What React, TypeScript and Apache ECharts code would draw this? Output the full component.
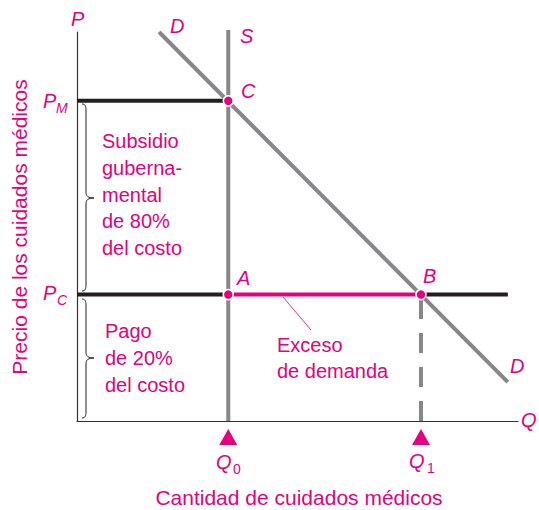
import React, { useEffect, useRef } from "react";
import * as echarts from "echarts";

// Quantities and prices (data units, axes 0..100)
const Q0 = 34.3;
const Q1 = 78;
const PM = 82.3;
const PC = 32.5;
const supplyLine = [[Q0, 0], [Q0, 100.5]];
const demandLine = [[18.6, 100], [97.7, 10]];
const pmLine = [[0, PM], [Q0, PM]];
const pcLeftLine = [[0, PC], [Q0, PC]];
const excessLine = [[Q0, PC], [Q1, PC]];
const pcRightLine = [[Q1, PC], [97.7, PC]];
const q1Dashed = [[Q1, 0], [Q1, PC]];
const keyPoints = [[Q0, PM], [Q0, PC], [Q1, PC]];
const arrowMarks = [[Q0, -4.1], [Q1, -4.1]];

const PINK = "#e5007e";
const GRAY = "#87878a";
const BLACK = "#231f20";
const FONT = "'Liberation Sans', Arial, Helvetica, sans-serif";

echarts.graphic.registerShape(
  "braceTop",
  echarts.graphic.extendPath(
    "M82,104 C85,104 86,106 86,110 L86,192 C86,196 88,198 94,198 C88,198 86,200 86,204 L86,285 C86,289 85,291 82,291",
    {}
  )
);
echarts.graphic.registerShape(
  "braceBottom",
  echarts.graphic.extendPath(
    "M82,299 C85,299 86,301 86,305 L86,352 C86,356 88,358 94,358 C88,358 86,360 86,364 L86,412 C86,416 85,418 82,418",
    {}
  )
);

function txt(
  text: string,
  x: number,
  y: number,
  opts: { size?: number; italic?: boolean; align?: string; color?: string; rotation?: number } = {}
) {
  const size = opts.size ?? 20;
  const align = opts.align ?? "left";
  return {
    type: "text",
    x,
    y,
    rotation: opts.rotation ?? 0,
    z: 100,
    style: {
      text,
      fill: opts.color ?? PINK,
      font: `${opts.italic ? "italic " : ""}${size}px ${FONT}`,
      fontSize: size,
      fontFamily: FONT,
      fontStyle: opts.italic ? "italic" : "normal",
      align,
      verticalAlign: "middle",
      textAlign: align,
      textVerticalAlign: "middle",
    },
  };
}

function lineSeries(data: number[][], color: string, width: number, dashed?: number[]) {
  return {
    type: "line",
    data,
    symbol: "none",
    silent: true,
    clip: false,
    lineStyle: { color, width, cap: "butt", type: dashed ?? "solid" },
  };
}

export default function App() {
  const ref = useRef<HTMLDivElement>(null);

  useEffect(() => {
    if (!ref.current) return;
    const chart = echarts.init(ref.current, null, { renderer: "svg" });
    const axisCommon = {
      type: "value",
      min: 0,
      max: 100,
      axisLine: { show: true, onZero: true, lineStyle: { color: "#333", width: 1.2 } },
      axisTick: { show: false },
      axisLabel: { show: false },
      splitLine: { show: false },
    };
    chart.setOption({
      animation: false,
      backgroundColor: "#ffffff",
      grid: { left: 77, top: 32, right: 21, bottom: 89, containLabel: false },
      xAxis: axisCommon,
      yAxis: axisCommon,
      series: [
        lineSeries(supplyLine, GRAY, 4),
        lineSeries(demandLine, GRAY, 4),
        lineSeries(q1Dashed, GRAY, 4, [20, 14]),
        lineSeries(pmLine, BLACK, 4),
        lineSeries(pcLeftLine, BLACK, 4),
        lineSeries(pcRightLine, BLACK, 4),
        lineSeries(excessLine, PINK, 4),
        {
          type: "scatter",
          data: keyPoints,
          symbol: "circle",
          symbolSize: 10,
          silent: true,
          z: 5,
          itemStyle: { color: PINK, borderColor: "#fff", borderWidth: 1.6, opacity: 1 },
        },
        {
          type: "scatter",
          data: arrowMarks,
          symbol: "triangle",
          symbolSize: [18, 16],
          silent: true,
          clip: false,
          itemStyle: { color: PINK, opacity: 1 },
        },
      ],
      graphic: [
        { type: "braceTop", x: 0, y: 0, style: { stroke: BLACK, fill: null, lineWidth: 1 } },
        { type: "braceBottom", x: 0, y: 0, style: { stroke: BLACK, fill: null, lineWidth: 1 } },
        { type: "line", shape: { x1: 283, y1: 297, x2: 311, y2: 330 }, style: { stroke: PINK, lineWidth: 0.8 } },
        txt("P", 71, 19, { italic: true }),
        txt("D", 170, 26, { italic: true }),
        txt("S", 240, 36, { italic: true }),
        txt("C", 241, 91, { italic: true }),
        txt("P", 43, 101, { italic: true }),
        txt("M", 56, 108, { italic: true, size: 14 }),
        txt("P", 43, 293, { italic: true }),
        txt("C", 57, 300, { italic: true, size: 14 }),
        txt("A", 237, 278, { italic: true }),
        txt("B", 423, 276, { italic: true }),
        txt("D", 510, 366, { italic: true }),
        txt("Q", 521, 420, { italic: true }),
        txt("Q", 216, 462, { italic: true }),
        txt("0", 233, 469, { size: 14 }),
        txt("Q", 409, 461, { italic: true }),
        txt("1", 427, 468, { size: 14 }),
        txt("Subsidio", 102, 141),
        txt("guberna-", 102, 168),
        txt("mental", 102, 195),
        txt("de 80%", 102, 221),
        txt("del costo", 102, 248),
        txt("Pago", 105, 331),
        txt("de 20%", 105, 358),
        txt("del costo", 105, 385),
        txt("Exceso", 277, 345),
        txt("de demanda", 277, 371),
        txt("Cantidad de cuidados médicos", 299, 497, { align: "center", size: 21 }),
        txt("Precio de los cuidados médicos", 19, 227, { align: "center", rotation: Math.PI / 2, size: 21 }),
      ],
    });
    return () => chart.dispose();
  }, []);

  return (
    <div
      ref={ref}
      style={{ position: "absolute", left: 0, top: 0, width: 539, height: 510, background: "#fff" }}
    />
  );
}
